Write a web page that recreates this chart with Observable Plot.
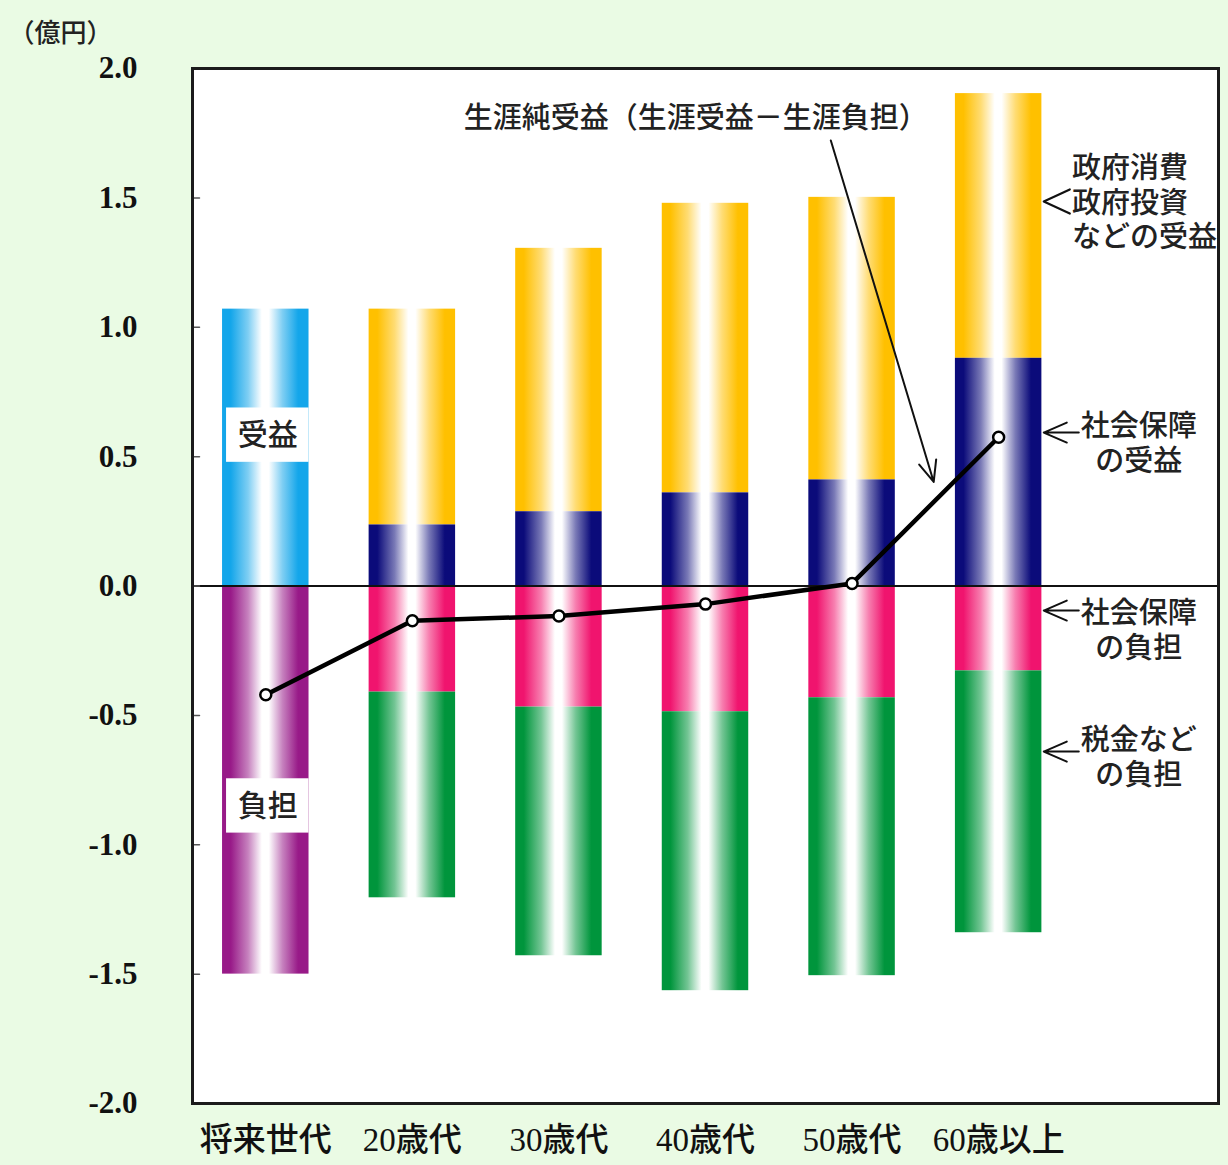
<!DOCTYPE html>
<html lang="ja">
<head>
<meta charset="utf-8">
<script src="https://cdn.jsdelivr.net/npm/d3@7"></script>
<script src="https://cdn.jsdelivr.net/npm/@observablehq/plot@0.6"></script>
<style>
  html, body { margin: 0; padding: 0; background: #eafbe4; }
  #chart { width: 1228px; height: 1165px; }
  #chart svg { display: block; }
</style>
</head>
<body>
<div id="chart"></div>
<script>
// 世代別の生涯受益・生涯負担（億円）
const categories = ["将来世代", "20歳代", "30歳代", "40歳代", "50歳代", "60歳以上"];

// 将来世代：受益・負担の合計のみ
const futureBenefit = 1.07;
const futureBurden = -1.50;

// 現存世代（20歳代〜60歳以上）の内訳
const socialBenefit = [0.236, 0.287, 0.360, 0.410, 0.880];   // 社会保障の受益
const govBenefit    = [0.834, 1.018, 1.119, 1.092, 1.023];   // 政府消費・政府投資などの受益
const socialBurden  = [-0.410, -0.468, -0.486, -0.432, -0.328]; // 社会保障の負担
const taxBurden     = [-0.795, -0.961, -1.078, -1.074, -1.012]; // 税金などの負担

// 生涯純受益（生涯受益－生涯負担）
const netBenefit = [-0.42, -0.134, -0.116, -0.07, 0.01, 0.575];

const yTicks = [-2, -1.5, -1, -0.5, 0, 0.5, 1, 1.5, 2];

const boxLabels = [
  {text: "受益", y: 0.583},
  {text: "負担", y: -0.85}
];

// 積み上げ区間の表
const segments = [
  {i: 0, key: "sky", y1: 0, y2: futureBenefit},
  {i: 0, key: "purple", y1: 0, y2: futureBurden}
];
socialBenefit.forEach((v, k) => {
  const i = k + 1;
  segments.push({i, key: "navy", y1: 0, y2: v});
  segments.push({i, key: "gold", y1: v, y2: v + govBenefit[k]});
  segments.push({i, key: "pink", y1: 0, y2: socialBurden[k]});
  segments.push({i, key: "green", y1: socialBurden[k], y2: socialBurden[k] + taxBurden[k]});
});

const palette = {
  sky: "#14a6ea",
  purple: "#981a88",
  gold: "#ffc000",
  navy: "#0b0b7a",
  pink: "#f0146e",
  green: "#00953c"
};

const half = 0.295;
const jp = "'Noto Sans CJK JP', sans-serif";
const mixed = "'Liberation Serif', 'Noto Sans CJK JP', serif";

// 内向きの短い目盛線
const tickShape = {
  draw(context, l) { context.moveTo(0, 0); context.lineTo(0, -l); }
};
// 先端が開いた「<」型の矢印（先端が原点、軸は -y 方向）
const chevronArrow = (back, spread) => ({
  draw(context, l) {
    context.moveTo(-spread, -back);
    context.lineTo(0, 0);
    context.lineTo(spread, -back);
    if (l > 0) { context.moveTo(0, 0); context.lineTo(0, -l); }
  }
});

const barMarks = Object.keys(palette).map(key =>
  Plot.rect(segments.filter(d => d.key === key), {
    x1: d => d.i - half,
    x2: d => d.i + half,
    y1: "y1",
    y2: "y2",
    fill: `url(#grad-${key})`
  })
);

const chart = Plot.plot({
  width: 1228,
  height: 1165,
  marginTop: 68,
  marginBottom: 62,
  marginLeft: 192,
  marginRight: 10,
  style: {background: "transparent", color: "#111", fontFamily: mixed},
  x: {domain: [-0.5, 6.5], label: null},
  y: {domain: [-2, 2], label: null},
  marks: [
    Plot.frame({fill: "white"}),
    ...barMarks,
    // 将来世代の棒に付ける「受益」「負担」
    Plot.rect(boxLabels, {
      x1: -half, x2: half, insetLeft: 4,
      y1: d => d.y - 0.105, y2: d => d.y + 0.105,
      fill: "white"
    }),
    Plot.text(boxLabels, {
      x: 0, y: "y", text: "text", dx: 2,
      fontSize: 30, fontWeight: 500, fontFamily: jp, fill: "#222"
    }),
    Plot.ruleY([0], {stroke: "#111", strokeWidth: 2}),
    // 生涯純受益の折れ線
    Plot.line(netBenefit, {x: (d, i) => i, y: d => d, stroke: "#000", strokeWidth: 4.5}),
    Plot.dot(netBenefit, {x: (d, i) => i, y: d => d, r: 5.5, fill: "white", stroke: "#000", strokeWidth: 2.5}),
    // 折れ線の説明
    Plot.text(["生涯純受益（生涯受益－生涯負担）"], {
      x: 2.934, y: 1.807, text: d => d,
      fontSize: 29, fontWeight: 500, fontFamily: jp, fill: "#222"
    }),
    Plot.arrow([0], {
      x1: 3.855, y1: 1.722, x2: 4.557, y2: 0.402,
      stroke: "#111", strokeWidth: 2, headLength: 17, headAngle: 46
    }),
    // 右側の注記
    Plot.text(["政府消費\n政府投資\nなどの受益"], {
      x: 5.50, y: 1.486, text: d => d, textAnchor: "start", lineHeight: 1.2,
      fontSize: 29, fontWeight: 500, fontFamily: jp, fill: "#222"
    }),
    Plot.text(["社会保障\nの受益", "社会保障\nの負担", "税金など\nの負担"], {
      x: 5.956, y: [0.557, -0.166, -0.657], text: d => d, lineHeight: 1.22,
      fontSize: 29, fontWeight: 500, fontFamily: jp, fill: "#222"
    }),
    Plot.vector([1.486], {
      x: 5.308, y: d => d, rotate: 90, length: 0, anchor: "start",
      shape: chevronArrow(26, 12), stroke: "#111", strokeWidth: 2.2
    }),
    Plot.vector([0.593, -0.095, -0.64], {
      x: 5.308, y: d => d, rotate: 90, length: 35, anchor: "start",
      shape: chevronArrow(23, 10), stroke: "#111", strokeWidth: 2
    }),
    // 目盛（内向き）
    Plot.vector(yTicks, {
      y: d => d, frameAnchor: "left", rotate: 90, length: 7,
      anchor: "start", shape: tickShape, stroke: "#555", strokeWidth: 1.5
    }),
    Plot.axisY(yTicks, {
      tickSize: 0, tickPadding: 55, tickFormat: d => d.toFixed(1),
      fontSize: 31, fontWeight: "bold", fontFamily: "'Liberation Serif', serif", fill: "#111"
    }),
    Plot.axisX(d3.range(categories.length), {
      tickSize: 0, tickPadding: 24, tickFormat: i => categories[i],
      fontSize: 33, fontFamily: mixed, fontWeight: 500, fill: "#111"
    }),
    Plot.frame({stroke: "#1b1b1b", strokeWidth: 3}),
    // 単位
    Plot.text(["（億円）"], {
      frameAnchor: "top-left", text: d => d, textAnchor: "start",
      dx: -184, dy: -45, fontSize: 26, fontWeight: 500, fontFamily: jp, fill: "#222"
    })
  ]
});

// 円柱風の横方向グラデーション
const defs = d3.select(chart).insert("defs", ":first-child");
const tint = (c, t) => d3.interpolateRgb(c, "#ffffff")(t);
for (const [key, c] of Object.entries(palette)) {
  const g = defs.append("linearGradient")
    .attr("id", `grad-${key}`)
    .attr("x1", "0%").attr("x2", "100%").attr("y1", "0%").attr("y2", "0%");
  const stops = [
    [0, c], [0.10, c], [0.30, tint(c, 0.45)], [0.46, "#ffffff"],
    [0.54, "#ffffff"], [0.70, tint(c, 0.45)], [0.88, c], [1, c]
  ];
  for (const [o, col] of stops) {
    g.append("stop").attr("offset", o).attr("stop-color", col);
  }
}

document.getElementById("chart").appendChild(chart);
</script>
</body>
</html>
